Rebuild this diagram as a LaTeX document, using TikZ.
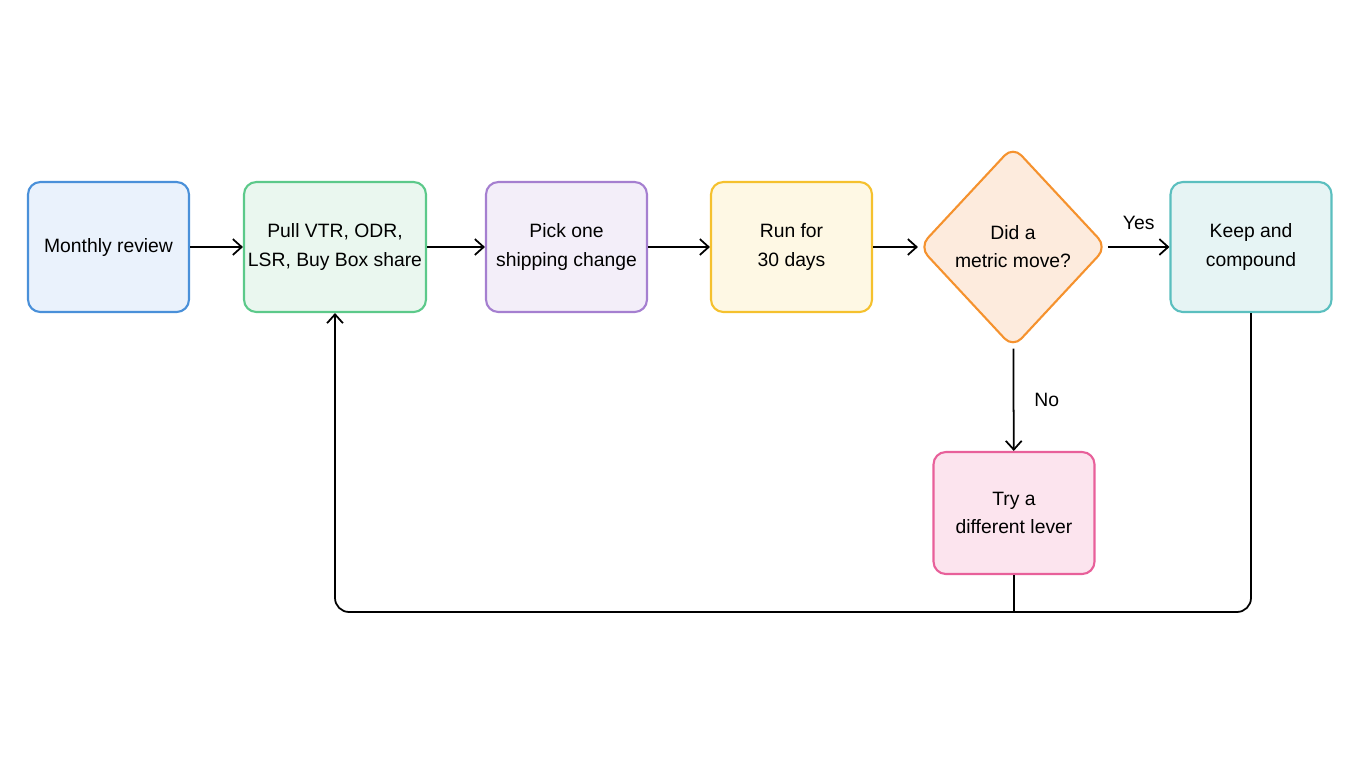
\documentclass[tikz,border=0pt]{standalone}
\usepackage{fontspec}
\setmainfont{Liberation Sans}
\usetikzlibrary{shapes.geometric,arrows.meta}

\definecolor{bluel}{HTML}{4A90D9}   \definecolor{bluef}{HTML}{EAF2FC}
\definecolor{greenl}{HTML}{5CC98A}  \definecolor{greenf}{HTML}{EAF7EF}
\definecolor{purpl}{HTML}{A57FD0}   \definecolor{purpf}{HTML}{F3EEF9}
\definecolor{yell}{HTML}{F5C12E}    \definecolor{yelf}{HTML}{FEF8E4}
\definecolor{orgl}{HTML}{F5922E}    \definecolor{orgf}{HTML}{FDEBDD}
\definecolor{teall}{HTML}{5BBFBF}   \definecolor{tealf}{HTML}{E6F4F4}
\definecolor{pinkl}{HTML}{E8609A}   \definecolor{pinkf}{HTML}{FCE4EE}

\tikzset{
	step/.style={draw=#1l, fill=#1f, line width=1.2pt, rounded corners=7pt,
		minimum width=3.22cm, minimum height=2.6cm, align=center, inner xsep=2pt,
		font=\fontsize{11}{16}\selectfont},
	choice/.style={draw=orgl, fill=orgf, line width=1.2pt, diamond,
		rounded corners=7pt, minimum width=3.76cm, minimum height=4.04cm,
		inner sep=0pt, align=center, font=\fontsize{11}{16}\selectfont},
	flow/.style={-{Straight Barb[length=5pt,width=9pt]}, line width=1pt},
	tag/.style={font=\fontsize{11}{14}\selectfont},
}

\begin{document}
\begin{tikzpicture}[x=0.02cm,y=-0.02cm]

% canvas %{{{2

	\useasboundingbox (0,0) rectangle (1360,768);

% steps %{{{2

	\node[step=blue] (review) at (108.5,247) {Monthly review};
	\node[step=green, minimum width=3.64cm] (pull) at (335,247) {Pull VTR, ODR,\\LSR, Buy Box share};
	\node[step=purp] (pick) at (566.5,247) {Pick one\\shipping change};
	\node[step=yel] (run) at (791.5,247) {Run for\\30 days};
	\node[choice] (moved) at (1013,247) {Did a\\metric move?};
	\node[step=teal] (keep) at (1251,247) {Keep and\\compound};
	\node[step=pink, minimum height=2.44cm] (lever) at (1014,513) {Try a\\different lever};

% connectors %{{{2

	\draw[flow] (review) -- (pull);
	\draw[flow] (pull) -- (pick);
	\draw[flow] (pick) -- (run);
	\draw[flow] (run) -- (moved);
	\draw[flow] (moved) -- node[tag, above=6pt] {Yes} (keep);
	\draw[flow] (moved) -- node[tag, right=8pt] {No} (lever);

% loop back %{{{2

	\coordinate (join) at (1014,612);
	\draw[line width=1pt] (lever.south) -- (join);
	\draw[flow, rounded corners=8pt] (keep.south) |- (join) -| (pull.south);

\end{tikzpicture}
\end{document}
